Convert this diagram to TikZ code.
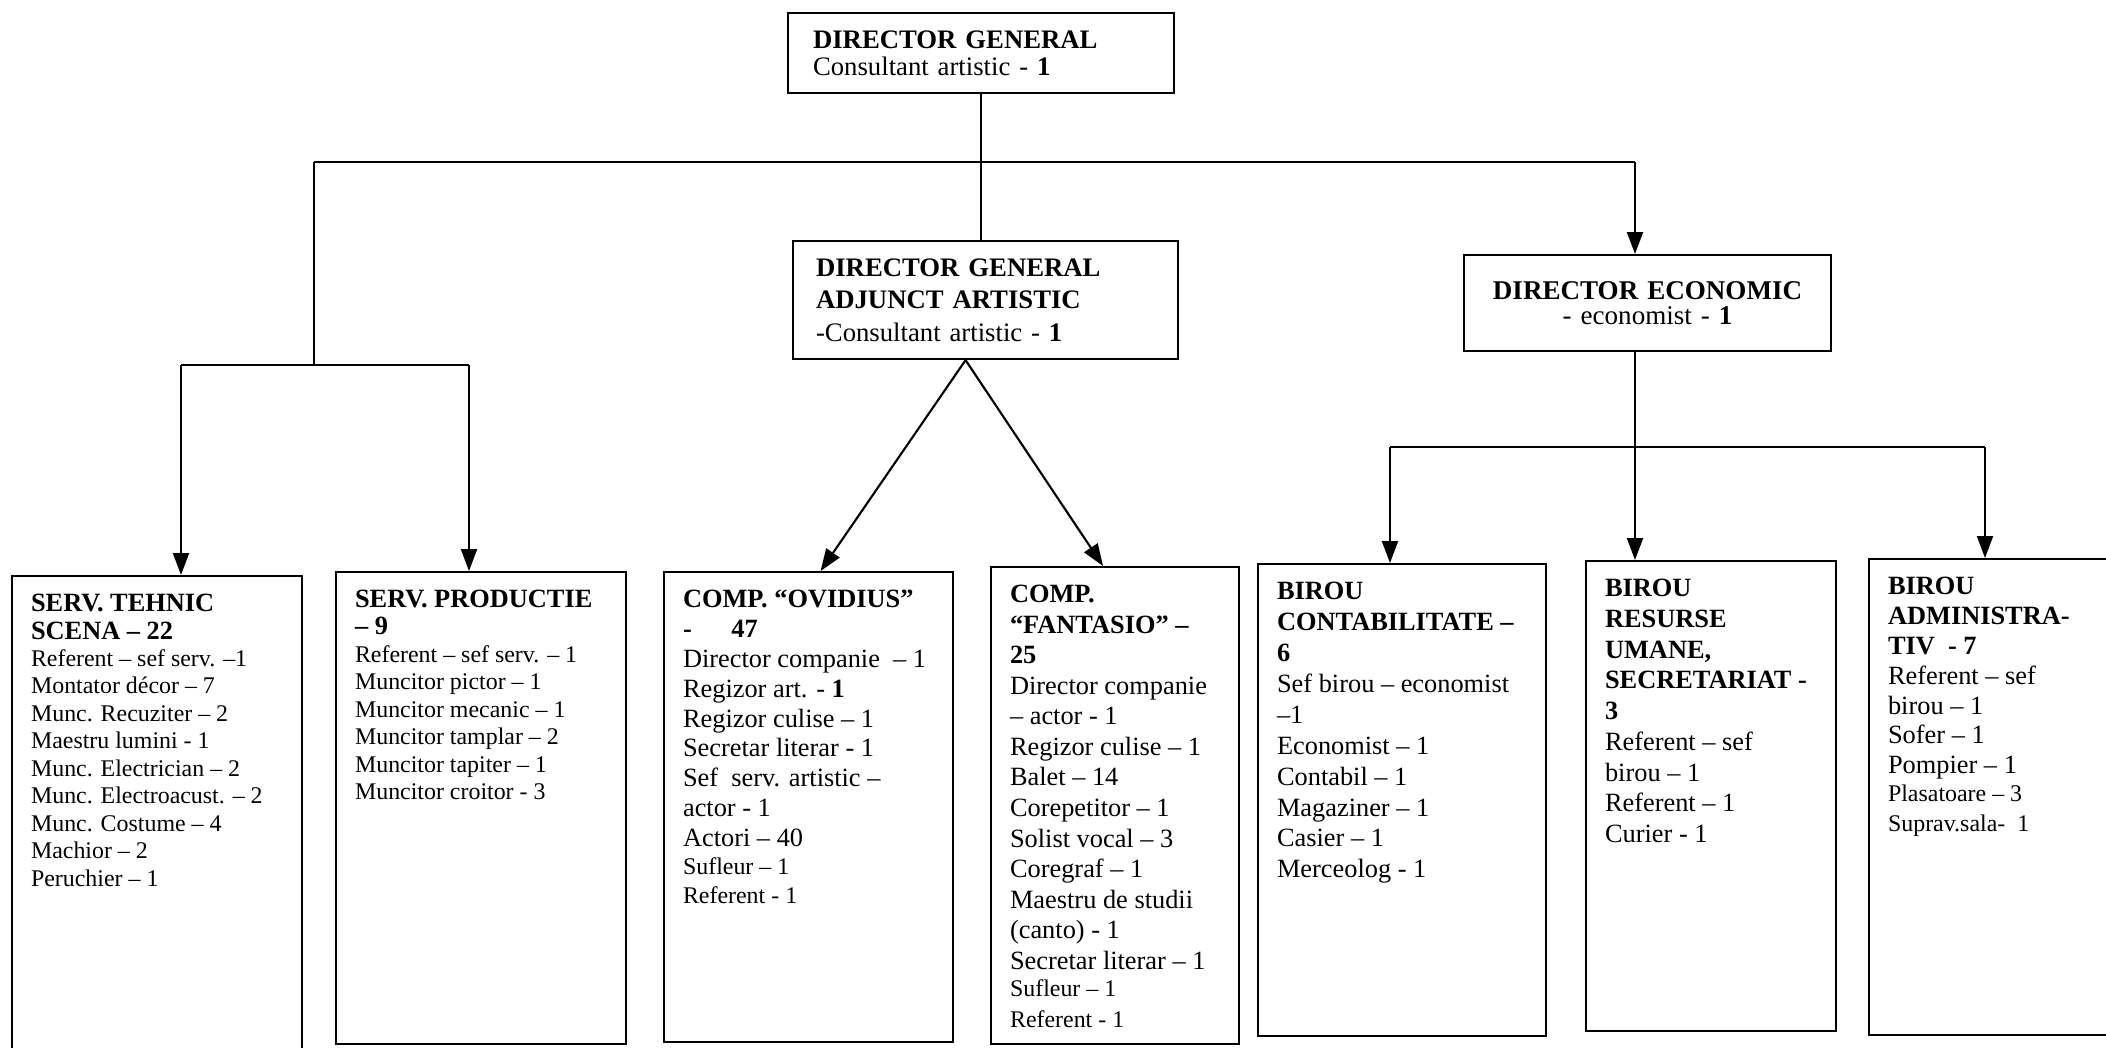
\documentclass[tikz,border=0pt]{standalone}
\usepackage{fontspec}
\setmainfont{Liberation Serif}
\usetikzlibrary{arrows.meta}

\newcommand{\unitbody}[3]{\parbox[t][#2][t]{#1}{\raggedright #3}}
\newcommand{\minor}{\fontsize{6.8}{7.8}\selectfont}

\tikzset{
  head/.style={draw, anchor=north west, align=left, font=\fontsize{7.6}{7.7}\selectfont},
  unit/.style={draw, anchor=north west, inner xsep=0.19cm, inner ysep=0.18cm, font=\fontsize{7.5}{8.2}\selectfont},
  sub/.style={-{Triangle[length=0.22cm,width=0.16cm]}}
}

\begin{document}
\begin{tikzpicture}[line width=0.6pt]
\useasboundingbox (0,0) rectangle (21.06,-10.47);

        \begin{scope}[every node/.style={head}]
          \node[minimum width=3.86cm, minimum height=0.80cm, inner xsep=0.25cm, text width=3.36cm] (dg) at (7.87,-0.12)
            {\textbf{DIRECTOR GENERAL}\\Consultant artistic - \textbf{1}};
          \node[minimum width=3.85cm, minimum height=1.18cm, inner xsep=0.23cm, text width=3.39cm,
                font=\fontsize{7.6}{9.3}\selectfont] (adj) at (7.92,-2.40)
            {\textbf{DIRECTOR GENERAL}\\\textbf{ADJUNCT ARTISTIC}\\-Consultant artistic - \textbf{1}};
          \node[minimum width=3.67cm, minimum height=0.96cm, inner xsep=0.2cm, text width=3.27cm, align=center,
                font=\fontsize{7.7}{7.3}\selectfont] (eco) at (14.63,-2.54)
            {\textbf{DIRECTOR ECONOMIC}\\- economist - \textbf{1}};
        \end{scope}

        \begin{scope}[every node/.style={unit}]
          \node[font=\fontsize{7.5}{7.85}\selectfont] (tehnic) at (0.11,-5.75) {\unitbody{2.52cm}{4.44cm}{%
            \textbf{SERV. TEHNIC}\\\textbf{SCENA – 22}\\
            {\minor Referent – sef serv. –1\\Montator décor – 7\\Munc. Recuziter – 2\\Maestru lumini - 1\\
            Munc. Electrician – 2\\Munc. Electroacust. – 2\\Munc. Costume – 4\\Machior – 2\\Peruchier – 1}}};
          \node[font=\fontsize{7.5}{7.8}\selectfont] (prod) at (3.35,-5.71) {\unitbody{2.52cm}{4.36cm}{%
            \textbf{SERV. PRODUCTIE}\\\textbf{– 9}\\
            {\minor Referent – sef serv. – 1\\Muncitor pictor – 1\\Muncitor mecanic – 1\\
            Muncitor tamplar – 2\\Muncitor tapiter – 1\\Muncitor croitor - 3}}};
          \node[font=\fontsize{7.5}{8.5}\selectfont] (ovid) at (6.63,-5.71) {\unitbody{2.51cm}{4.34cm}{%
            \textbf{COMP. “OVIDIUS”}\\\textbf{-\hspace{1.5em}47}\\
            Director companie \ – 1\\Regizor art. - \textbf{1}\\Regizor culise – 1\\Secretar literar - 1\\
            Sef \ serv. artistic –\\actor - 1\\Actori – 40\\
            {\minor Sufleur – 1\\Referent - 1}}};
          \node[font=\fontsize{7.5}{8.7}\selectfont] (fant) at (9.90,-5.66) {\unitbody{2.10cm}{4.41cm}{%
            \textbf{COMP.}\\\textbf{“FANTASIO” –}\\\textbf{25}\\
            Director companie\\– actor - 1\\Regizor culise – 1\\Balet – 14\\Corepetitor – 1\\
            Solist vocal – 3\\Coregraf – 1\\Maestru de studii\\(canto) - 1\\Secretar literar – 1\\
            {\minor Sufleur – 1\\Referent - 1}}};
          \node[font=\fontsize{7.5}{8.8}\selectfont] (cont) at (12.57,-5.63) {\unitbody{2.50cm}{4.36cm}{%
            \textbf{BIROU}\\\textbf{CONTABILITATE –}\\\textbf{6}\\
            Sef birou – economist\\–1\\Economist – 1\\Contabil – 1\\Magaziner – 1\\Casier – 1\\Merceolog - 1}};
          \node[font=\fontsize{7.5}{8.75}\selectfont] (res) at (15.85,-5.60) {\unitbody{2.12cm}{4.34cm}{%
            \textbf{BIROU}\\\textbf{RESURSE}\\\textbf{UMANE,}\\\textbf{SECRETARIAT -}\\\textbf{3}\\
            Referent – sef\\birou – 1\\Referent – 1\\Curier - 1}};
          \node[font=\fontsize{7.5}{8.5}\selectfont] (adm) at (18.68,-5.58) {\unitbody{2.62cm}{4.40cm}{%
            \textbf{BIROU}\\\textbf{ADMINISTRA-}\\\textbf{TIV \ - 7}\\
            Referent – sef\\birou – 1\\Sofer – 1\\Pompier – 1\\
            {\minor Plasatoare – 3\\Suprav.sala- \ 1}}};
        \end{scope}

        \coordinate (busL) at (3.14,-1.62);
        \coordinate (busR) at (16.35,-1.62);
        \coordinate (techL) at (1.81,-3.65);
        \coordinate (techR) at (4.69,-3.65);
        \coordinate (apex) at ([xshift=-0.2cm]adj.south);
        \coordinate (ecoL) at (13.90,-4.47);
        \coordinate (ecoR) at (19.85,-4.47);

        \draw (dg.south) -- (dg.south |- adj.north);
        \draw (busL) -- (busR);
        \draw[sub] (busR) -- (busR |- eco.north);
        \draw (busL) -- (busL |- techL);
        \draw (techL) -- (techR);
        \draw[sub] (techL) -- (techL |- tehnic.north);
        \draw[sub] (techR) -- (techR |- prod.north);
        \draw[sub] (apex) -- ([xshift=0.12cm]ovid.north);
        \draw[sub] (apex) -- ([xshift=-0.12cm]fant.north);
        \draw[sub] (busR |- eco.south) -- (busR |- res.north);
        \draw (ecoL) -- (ecoR);
        \draw[sub] (ecoL) -- (ecoL |- cont.north);
        \draw[sub] (ecoR) -- (ecoR |- adm.north);

\end{tikzpicture}
\end{document}
